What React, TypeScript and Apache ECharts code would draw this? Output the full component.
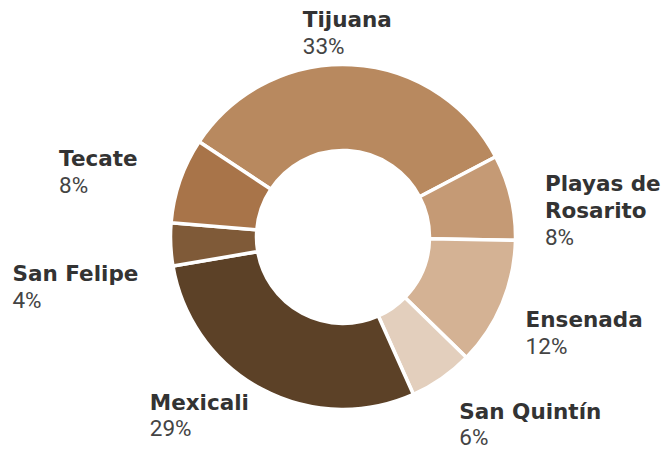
import React, { useEffect, useRef } from 'react';
import * as echarts from 'echarts';

// Data
const categories = ['Tijuana', 'Playas de Rosarito', 'Ensenada', 'San Quintín', 'Mexicali', 'San Felipe', 'Tecate'];
const shares = [33, 8, 12, 6, 29, 4, 8];
const sliceColors = ['#b8895f', '#c59a75', '#d4b294', '#e3cfbd', '#5c4127', '#7f5a38', '#a87449'];

// Layout
const CX = 343;
const CY = 237;
const R_OUT = 172.5;
const R_IN = 86.5;
const START_ANGLE = 146.5;
const NAME_LH = 27.5;
const PCT_LH = 25;
// label placement tweaks per slice: [angle shift (deg), label distance from centre (px)]
const labelTweak: [number, number][] = [
  [1.5, 177],
  [-6.2, 203.5],
  [-5.4, 207],
  [-3.3, 222],
  [0.5, 203],
  [11.6, 211],
  [1.9, 215],
];

function wrapName(name: string, maxChars: number): string {
  const words = name.split(' ');
  const lines: string[] = [];
  let cur = '';
  for (const w of words) {
    const next = cur ? cur + ' ' + w : w;
    if (next.length > maxChars && cur) {
      lines.push(cur);
      cur = w;
    } else {
      cur = next;
    }
  }
  if (cur) lines.push(cur);
  return lines.join('\n');
}

export default function App() {
  const ref = useRef<HTMLDivElement>(null);

  useEffect(() => {
    if (!ref.current) return;
    const chart = echarts.init(ref.current, undefined, { renderer: 'svg' });
    const total = shares.reduce((a, b) => a + b, 0);

    const option: any = {
      animation: false,
      backgroundColor: '#ffffff',
      series: [
        {
          type: 'pie',
          center: [CX, CY],
          radius: [R_IN, R_OUT],
          startAngle: START_ANGLE,
          clockwise: true,
          avoidLabelOverlap: false,
          silent: true,
          data: categories.map((c, i) => ({
            name: c,
            value: shares[i],
            itemStyle: { color: sliceColors[i] },
          })),
          itemStyle: { borderColor: '#ffffff', borderWidth: 3.5 },
          labelLine: { show: false },
          label: {
            show: true,
            position: 'outside',
            formatter: (p: any) => `{n|${wrapName(p.name, 11)}}\n{p|${p.value}%}`,
            rich: {
              n: {
                fontFamily: 'DejaVu Sans',
                fontWeight: 'bold',
                fontSize: 21.5,
                lineHeight: NAME_LH,
                color: '#333333',
                align: 'left',
              },
              p: {
                fontFamily: 'Roboto',
                fontWeight: 'normal',
                fontSize: 22.5,
                lineHeight: PCT_LH,
                color: '#444444',
                align: 'left',
              },
            },
          },
          labelLayout: (params: any) => {
            const i = params.dataIndex;
            let cum = 0;
            for (let k = 0; k < i; k++) cum += shares[k];
            const mid = START_ANGLE - (360 * (cum + shares[i] / 2)) / total + labelTweak[i][0];
            const rad = (mid * Math.PI) / 180;
            const dist = labelTweak[i][1];
            const ax = CX + dist * Math.cos(rad);
            const ay = CY - dist * Math.sin(rad);
            const w = params.labelRect.width;
            const h = params.labelRect.height + (NAME_LH - PCT_LH);
            const c = Math.cos(rad);
            let x: number;
            let y: number;
            if (Math.abs(c) < 0.2) {
              x = ax - w / 2;
              y = ay - h;
            } else if (c > 0) {
              x = ax;
              y = ay - h / 2;
            } else {
              x = ax - w;
              y = ay - h / 2;
            }
            return { x, y: y - 3, align: 'left', verticalAlign: 'top' };
          },
          emphasis: { disabled: true },
        },
      ],
    };
    chart.setOption(option);
    return () => chart.dispose();
  }, []);

  return (
    <div
      ref={ref}
      style={{ position: 'absolute', left: 0, top: 0, width: 662, height: 450 }}
    />
  );
}
